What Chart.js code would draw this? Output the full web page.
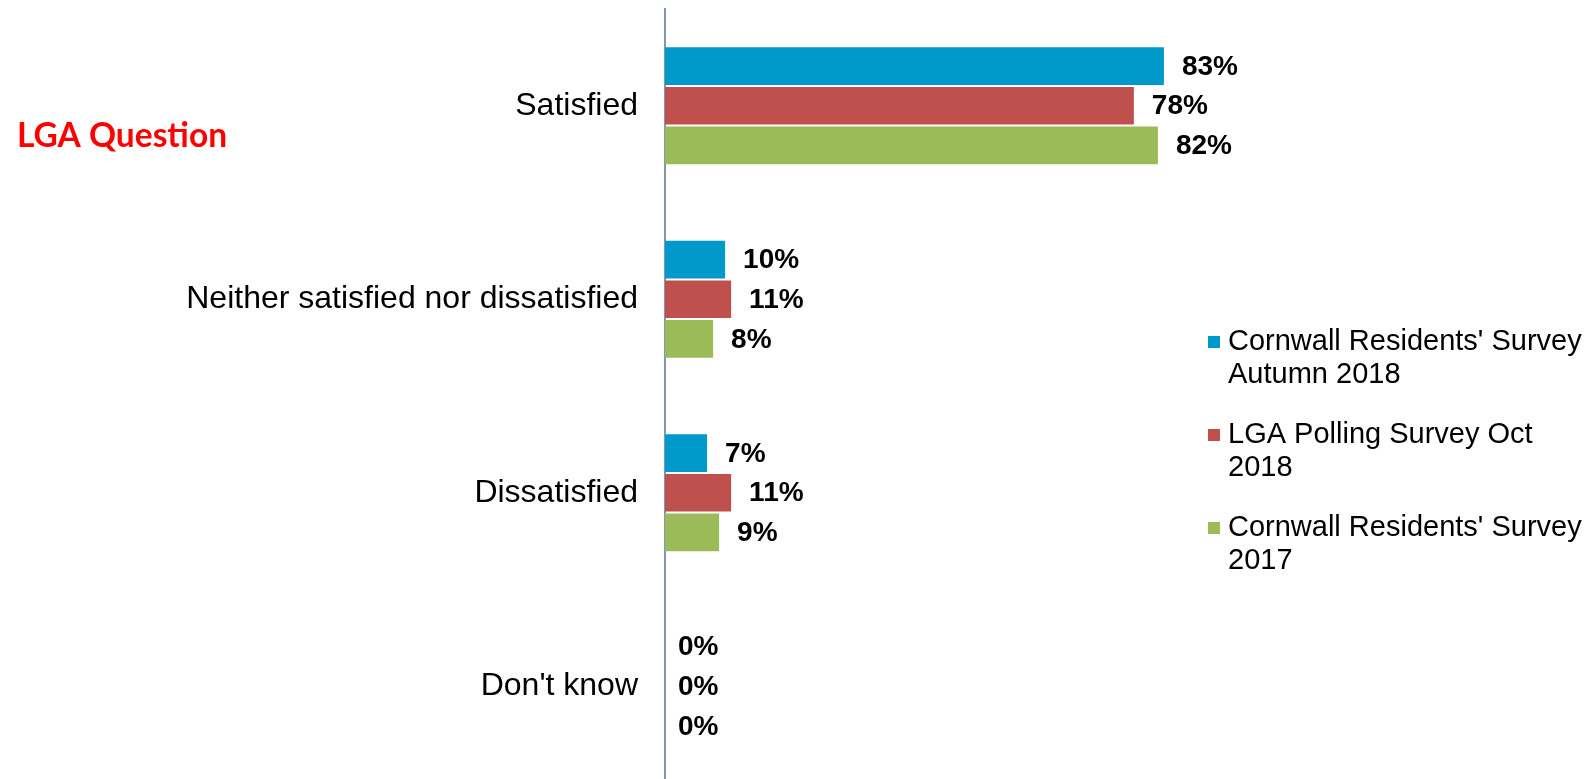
<!DOCTYPE html>
<html>
<head>
<meta charset="utf-8">
<script src="https://cdn.jsdelivr.net/npm/chart.js@4.4.1/dist/chart.umd.min.js"></script>
<style>
  html,body{ margin:0; padding:0; background:#fff; overflow:hidden; }
  #wrap{ position:relative; width:1587px; height:779px; overflow:hidden; }
</style>
</head>
<body>
<div id="wrap"><canvas id="chart" width="1587" height="783"></canvas></div>
<script>
// ----- data -----
const categories = ["Satisfied", "Neither satisfied nor dissatisfied", "Dissatisfied", "Don't know"];
const seriesNames = [["Cornwall Residents' Survey", "Autumn 2018"], ["LGA Polling Survey Oct", "2018"], ["Cornwall Residents' Survey", "2017"]];
const autumn2018 = [83, 10, 7, 0];
const lgaOct2018 = [78, 11, 11, 0];
const cornwall2017 = [82, 8, 9, 0];
const seriesColors = ["#0099CC", "#C0504D", "#9BBB59"];
const sideTitle = "LGA Question";

const FONT = "'Liberation Sans', Arial, sans-serif";

// ----- value labels at bar ends -----
const valueLabels = {
  id: "valueLabels",
  afterDatasetsDraw(chart){
    const ctx = chart.ctx;
    ctx.save();
    ctx.font = "bold 28px " + FONT;
    ctx.fillStyle = "#000";
    ctx.textAlign = "left";
    ctx.textBaseline = "middle";
    chart.data.datasets.forEach((ds, i) => {
      chart.getDatasetMeta(i).data.forEach((bar, j) => {
        const gap = ds.data[j] === 0 ? 13 : 18;
        ctx.fillText(ds.data[j] + "%", bar.x + gap, bar.y + 1);
      });
    });
    ctx.restore();
  }
};

// ----- legend + side title -----
const sideText = {
  id: "sideText",
  afterDraw(chart){
    const ctx = chart.ctx;
    ctx.save();
    // title on the left
    ctx.font = "bold 33.5px Lato, 'Open Sans', sans-serif";
    ctx.fillStyle = "#FF0000";
    ctx.textAlign = "left";
    ctx.textBaseline = "middle";
    ctx.fillText(sideTitle, 17, 136);

    // legend on the right
    ctx.font = "29px " + FONT;
    const x0 = 1208, top = 342, step = 93, lineH = 33;
    seriesNames.forEach((lines, i) => {
      const y = top + i * step;
      ctx.fillStyle = seriesColors[i];
      ctx.fillRect(x0, y - 6, 12, 12);
      ctx.fillStyle = "#000";
      lines.forEach((ln, k) => ctx.fillText(ln, x0 + 20, y + k * lineH));
    });
    ctx.restore();
  }
};

new Chart(document.getElementById("chart"), {
  type: "bar",
  data: {
    labels: categories,
    datasets: [
      { label: seriesNames[0].join(" "), data: autumn2018, backgroundColor: seriesColors[0] },
      { label: seriesNames[1].join(" "), data: lgaOct2018, backgroundColor: seriesColors[1] },
      { label: seriesNames[2].join(" "), data: cornwall2017, backgroundColor: seriesColors[2] }
    ]
  },
  options: {
    indexAxis: "y",
    responsive: false,
    animation: false,
    categoryPercentage: 0.615,
    barPercentage: 0.95,
    layout: { padding: { top: 9, right: 381, bottom: 0, left: 0 } },
    plugins: { legend: { display: false }, tooltip: { enabled: false } },
    scales: {
      x: { min: 0, max: 90, display: false },
      y: {
        grid: { display: false, drawTicks: false },
        border: { display: true, color: "#8497B0", width: 2 },
        ticks: { color: "#000", padding: 27, font: { family: FONT, size: 32 } },
        afterFit(scale){
          scale.width = 665;
          scale.paddingTop = 0;
          scale.paddingBottom = 0;
        }
      }
    }
  },
  plugins: [valueLabels, sideText]
});
</script>
</body>
</html>
